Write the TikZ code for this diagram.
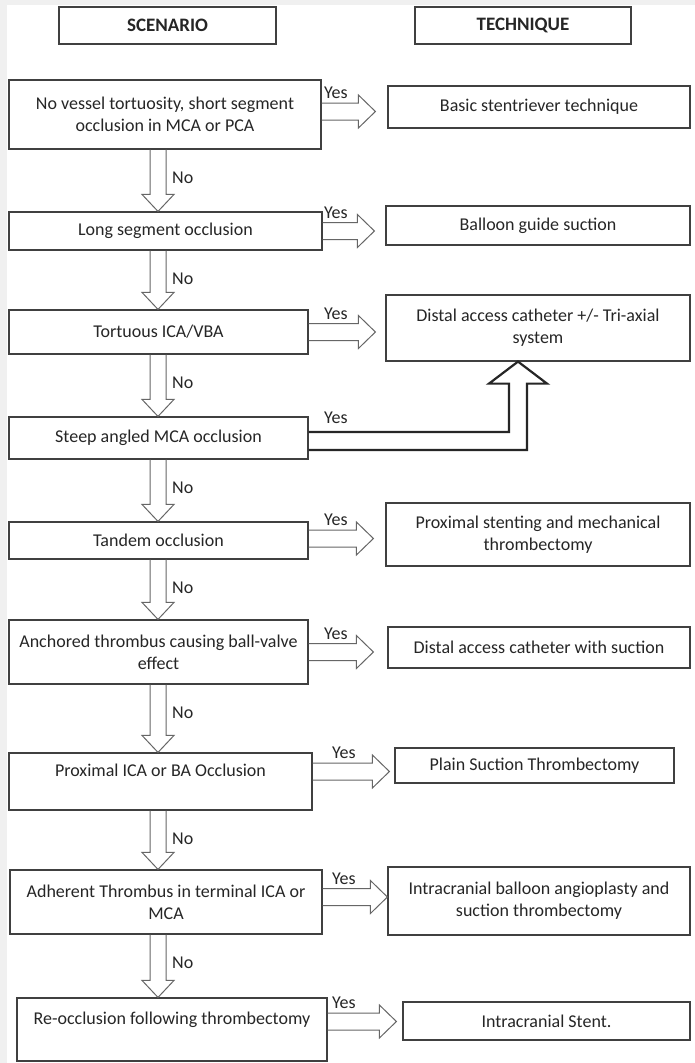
\documentclass[tikz,border=0pt]{standalone}
\usepackage{fontspec}
\setmainfont{Carlito}
\usetikzlibrary{calc}

% freccia "Yes": [spostamento]{da}{a}{distanza}
\newcommand{\yesarrow}[4][0]{%
  \path ([yshift=#1pt]#2.east) coordinate (ya) ([xshift=-#4pt]#3.west |- ya) coordinate (yb) (ya -| yescol) coordinate (yl);
  \draw[freccia] ($(ya)+(0,-8.5)$) -- ($(yb)+(-17,-8.5)$) -- ($(yb)+(-17,-16.5)$) -- (yb)
    -- ($(yb)+(-17,16.5)$) -- ($(yb)+(-17,8.5)$) -- ($(ya)+(0,8.5)$);
  \node[lab, anchor=base west] at ($(yl)+(0,-13)$) {Yes};}

% freccia "No": {da}{a}
\newcommand{\noarrow}[2]{%
  \path (#1.south -| spine) coordinate (na) (#2.north -| spine) coordinate (nb);
  \draw[freccia] ($(na)+(-8,0)$) -- ($(nb)+(-8,-17)$) -- ($(nb)+(-16,-17)$) -- (nb)
    -- ($(nb)+(16,-17)$) -- ($(nb)+(8,-17)$) -- ($(na)+(8,0)$);
  \node[lab, anchor=west] at ($(na)+(14,28)$) {No};}

\begin{document}
\begin{tikzpicture}[x=1pt, y=-1pt,
		box/.style={draw=black!75, line width=1.2pt, align=center, text=black!85, font=\fontsize{18}{22}\selectfont},
		head/.style={box, font=\bfseries\fontsize{19}{22}\selectfont},
		freccia/.style={draw=black!60, line width=1pt, line join=miter},
		doppia/.style={draw=black!85, line width=2.2pt, line join=miter},
		lab/.style={inner sep=0pt, text=black!85, font=\fontsize{18}{22}\selectfont}]
		
		% sfondo
		\fill[black!6] (0,0) rectangle (695,1063);
		\fill[white] (7,5) rectangle (695,1063);
		\useasboundingbox (0,0) rectangle (695,1063);
		\coordinate (spine) at (158,0);
		\coordinate (yescol) at (324,0);
		\coordinate (ux) at (518,0);
		
		% intestazioni
		\node[head, minimum width=217pt, minimum height=37pt] (hs) at (167.5,25.5) {SCENARIO};
		\node[head, minimum width=216pt, minimum height=37pt] (ht) at (523,25.5) {TECHNIQUE};
		
		% colonna scenario
		\node[box, minimum width=312pt, minimum height=69pt] (s1) at (165,114.5) {No vessel tortuosity, short segment\\occlusion in MCA or PCA};
		\node[box, minimum width=313pt, minimum height=38pt] (s2) at (165.5,231) {Long segment occlusion};
		\node[box, minimum width=299pt, minimum height=44pt] (s3) at (158.5,332) {Tortuous ICA/VBA};
		\node[box, minimum width=299pt, minimum height=42pt] (s4) at (158.5,438) {Steep angled MCA occlusion};
		\node[box, minimum width=299pt, minimum height=37pt] (s5) at (158.5,540.5) {Tandem occlusion};
		\node[box, minimum width=299pt, minimum height=64pt] (s6) at (158.5,652) {Anchored thrombus causing ball-valve\\effect};
		\node[box, minimum width=303pt, minimum height=57pt] (s7) at (160.5,781.5) {Proximal ICA or BA Occlusion\\~};
		\node[box, minimum width=312pt, minimum height=64pt] (s8) at (166,902) {Adherent Thrombus in terminal ICA or\\MCA};
		\node[box, minimum width=310pt, minimum height=63pt] (s9) at (172,1029.5) {Re-occlusion following thrombectomy\\~};
		
		% colonna tecnica
		\node[box, minimum width=302pt, minimum height=42pt] (t1) at (539,107) {Basic stentriever technique};
		\node[box, minimum width=304pt, minimum height=39pt] (t2) at (538,225.5) {Balloon guide suction};
		\node[box, minimum width=304pt, minimum height=66pt] (t3) at (538,328) {Distal access catheter +/- Tri-axial\\system};
		\node[box, minimum width=304pt, minimum height=63pt] (t5) at (538,534.5) {Proximal stenting and mechanical\\thrombectomy};
		\node[box, minimum width=302pt, minimum height=41pt] (t6) at (539,647.5) {Distal access catheter with suction};
		\node[box, minimum width=279pt, minimum height=35pt] (t7) at (534.5,765.5) {Plain Suction Thrombectomy};
		\node[box, minimum width=302pt, minimum height=68pt] (t8) at (539,901) {Intracranial balloon angioplasty and\\suction thrombectomy};
		\node[box, minimum width=287pt, minimum height=38pt] (t9) at (546.5,1021) {Intracranial Stent.};
		
		% frecce No
		\noarrow{s1}{s2}
		\noarrow{s2}{s3}
		\noarrow{s3}{s4}
		\noarrow{s4}{s5}
		\noarrow{s5}{s6}
		\noarrow{s6}{s7}
		\noarrow{s7}{s8}
		\noarrow{s8}{s9}
		
		% frecce Yes
		\yesarrow[3]{s1}{t1}{12}
		\yesarrow{s2}{t2}{11}
		\yesarrow{s3}{t3}{10}
		\yesarrow[2]{s5}{t5}{12}
		\yesarrow{s6}{t6}{14}
		\coordinate (yescol) at (332,0);
		\yesarrow[10]{s7}{t7}{5}
		\yesarrow[5]{s8}{t8}{0}
		\yesarrow[8]{s9}{t9}{6}
		
		% freccia doppia verso t3
		\coordinate (yescol) at (324,0);
		\path ([yshift=-3pt]s4.east) coordinate (sa) (t3.south -| ux) coordinate (sb) (sa -| yescol) coordinate (sl);
		\draw[doppia] ($(sa)+(0,-9)$) -| ($(sb)+(-9,22)$) -- ($(sb)+(-29,22)$) -- (sb)
			-- ($(sb)+(29,22)$) -- ($(sb)+(9,22)$) |- ($(sa)+(0,9)$);
		\node[lab, anchor=base west] at ($(sl)+(0,-18)$) {Yes};
		
	\end{tikzpicture}
\end{document}
